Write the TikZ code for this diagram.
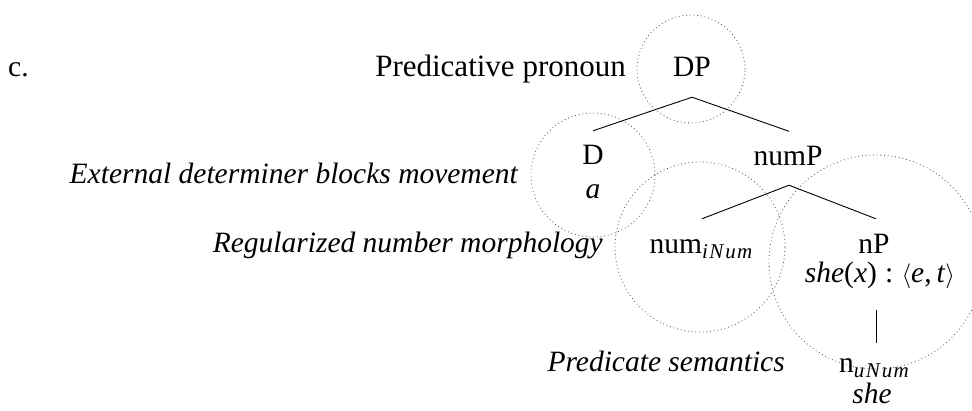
\documentclass[tikz,border=0pt]{standalone}
\usepackage{fontspec}
\setmainfont{Liberation Serif}
% lowered, spaced italic feature subscript
\newcommand{\featsub}[1]{\raisebox{-5pt}{\fontsize{21pt}{24pt}\selectfont\itshape #1}}
\begin{document}
\begin{tikzpicture}[x=1pt,y=-1pt,
  every node/.style={font=\fontsize{29.5pt}{35pt}\selectfont, inner sep=0pt},
  cat/.style={anchor=base, text height=17.5pt, text depth=0pt},
  gloss/.style={anchor=base, text height=17.5pt, text depth=0pt},
  note/.style={anchor=base east, font=\fontsize{29.5pt}{35pt}\selectfont\itshape},
  branch/.style={line width=0.9pt},
  ring/.style={draw=black!70, line width=0.8pt, dash pattern=on 0.8pt off 2.9pt}]
  \useasboundingbox (0,0) rectangle (972,411);

  % dotted domains around the projections
  \draw[ring] (691,69) circle[radius=54pt];
  \draw[ring] (593,175) circle[radius=62pt];
  \draw[ring] (700,247) circle[radius=85pt];
  \draw[ring] (876,262) circle[radius=107pt];

  % example number
  \node[anchor=base west] (ex) at (8,77) {c.};

  % tree nodes
  \node[cat] (DP) at (692,77) {DP};
  \node[cat] (D) at (593,165) {D};
  \node[gloss] (Dg) at (593,199) {\textit{a}};
  \node[cat] (numP) at (788,166) {numP};
  \node[cat] (num) at (701,254) {num\featsub{i\kern1.5pt N\kern2pt u\kern1.2pt m}};
  \node[cat] (nP) at (874,254) {nP};
  \node[gloss] (nPg) at (880,283) {\textit{she}(\textit{x})\;:\;$\langle$\textit{e},\,\textit{t}$\rangle$};
  \node[cat] (n) at (874,373) {n\featsub{u\kern1.5pt N\kern2pt u\kern1.2pt m}};
  \node[gloss] (ng) at (872,404) {\textit{she}};

  % annotations
  \node[note, font=\fontsize{31pt}{36pt}\selectfont] (lDP) at (626,77) {Predicative pronoun};
  \node[note] (lD) at (518,184) {External determiner blocks movement};
  \node[note] (lnum) at (603,253) {Regularized number morphology};
  \node[note] (ln) at (785,372) {Predicate semantics};

  % branches
  \draw[branch] ([yshift=-20pt]DP.south) -- ([yshift=16.5pt]D.north);
  \draw[branch] ([yshift=-20pt]DP.south) -- ([xshift=1pt,yshift=17pt]numP.north);
  \draw[branch] ([xshift=1pt,yshift=-19pt]numP.south) -- ([xshift=1pt,yshift=17.5pt]num.north);
  \draw[branch] ([xshift=1pt,yshift=-19pt]numP.south) -- ([xshift=2pt,yshift=17.5pt]nP.north);
  \draw[branch] ([xshift=-4pt,yshift=-27pt]nPg.south) -- ([xshift=2pt,yshift=12.5pt]n.north);
\end{tikzpicture}
\end{document}
